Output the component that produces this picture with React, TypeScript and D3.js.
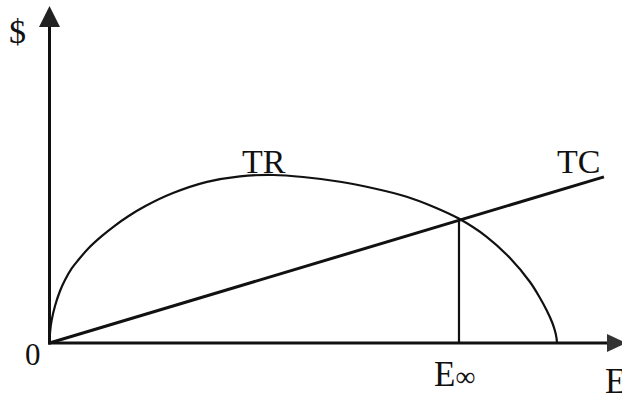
import React from "react";
import * as d3 from "d3";

// Total revenue curve (effort, revenue)
const trEffort = [0, 0.123, 0.351, 0.965, 1.842, 2.719, 3.895, 5.053, 6.807, 9.158, 11.491, 13.825, 16.754, 21.667, 27.632, 33.421, 39.211, 44.474, 50.965, 56.807, 62.667, 67.333, 71.719, 76.754, 80.789, 84.298, 86.053, 87.281, 88.158, 88.684, 88.947, 89.035];
const trRevenue = [0, 3.56, 6.53, 10.98, 15.43, 18.69, 22.11, 24.63, 28.04, 31.69, 34.84, 37.6, 40.56, 44.48, 47.8, 49.47, 49.85, 49.26, 47.86, 45.91, 43.41, 40.45, 37.0, 31.45, 25.22, 18.1, 13.35, 9.5, 6.23, 3.56, 1.48, 0];
// Total cost line
const tcEffort = [0, 97.28];
const tcCost = [0, 49.3];
// Open access equilibrium effort
const eInf = 71.84;

const W = 622;
const H = 397;

export default function App() {
  const x = d3.scaleLinear().domain([0, 100]).range([49.5, 619.5]);
  const y = d3.scaleLinear().domain([0, 100]).range([343, 6]);

  const trData = trEffort.map((e, i) => [e, trRevenue[i]] as [number, number]);
  const tcData = tcEffort.map((e, i) => [e, tcCost[i]] as [number, number]);

  const line = d3
    .line<[number, number]>()
    .x((d) => x(d[0]))
    .y((d) => y(d[1]));
  const curve = d3
    .line<[number, number]>()
    .x((d) => x(d[0]))
    .y((d) => y(d[1]))
    .curve(d3.curveCatmullRom.alpha(0.5));

  const tcAt = (e: number) => (tcCost[1] / tcEffort[1]) * e;
  const font = "'Liberation Serif', 'Times New Roman', serif";

  const x0 = x(0);
  const y0 = y(0);

  return (
    <svg
      width={W}
      height={H}
      style={{ position: "absolute", left: 0, top: 0, background: "#fff" }}
    >
      {/* y axis */}
      <line x1={x0} y1={y0 + 1.5} x2={x0} y2={26} stroke="#111" strokeWidth={3} />
      <path d={`M${x0},6 L${x0 + 10.5},27 L${x0 - 10.5},27 Z`} fill="#222" />
      {/* x axis */}
      <line x1={x0 - 1.5} y1={y0} x2={608} y2={y0} stroke="#111" strokeWidth={3} />
      <path d={`M626,${y0} L607,${y0 - 9} L607,${y0 + 9} Z`} fill="#333" />

      {/* TR */}
      <path d={curve(trData) || ""} fill="none" stroke="#111" strokeWidth={2.2} />
      {/* TC */}
      <path d={line(tcData) || ""} fill="none" stroke="#111" strokeWidth={3} />
      {/* E inf vertical */}
      <line
        x1={x(eInf)}
        y1={y(tcAt(eInf))}
        x2={x(eInf)}
        y2={y0}
        stroke="#111"
        strokeWidth={2.2}
      />

      <g fontFamily={font} fill="#111">
        <text x={9} y={43} fontSize={34}>$</text>
        <text x={25} y={365} fontSize={31}>0</text>
        <text x={242} y={173} fontSize={34}>TR</text>
        <text x={557} y={173} fontSize={34}>TC</text>
        <text x={434} y={386} fontSize={35}>E<tspan fontSize={28}>∞</tspan></text>
        <text x={605} y={393} fontSize={35}>E</text>
      </g>
    </svg>
  );
}
